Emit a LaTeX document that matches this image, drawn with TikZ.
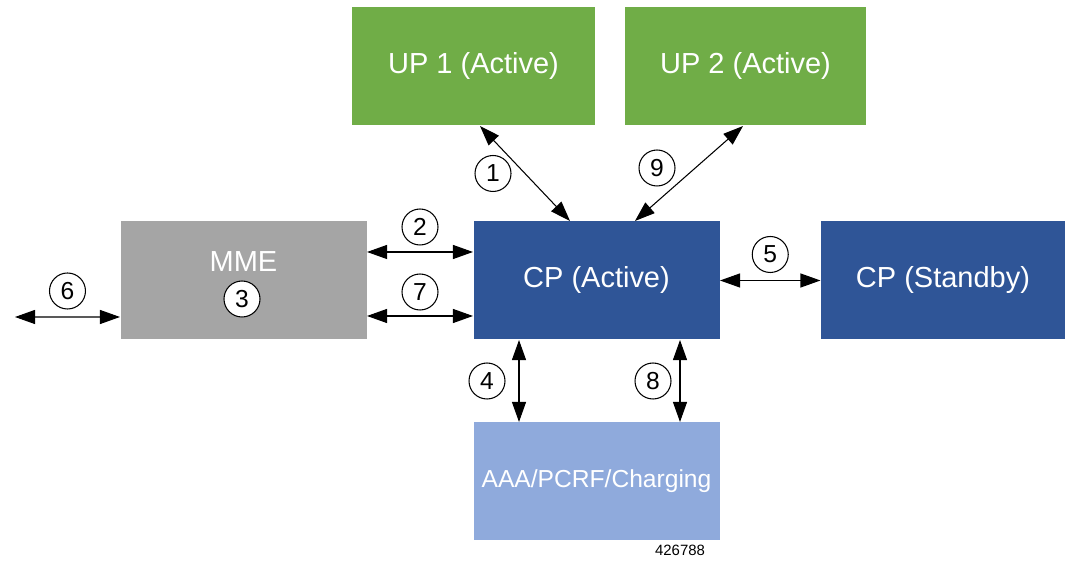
\documentclass[tikz,border=0pt]{standalone}
\usepackage{fontspec}
\setmainfont{Liberation Sans}
\usetikzlibrary{arrows.meta}
\definecolor{upgreen}{HTML}{70AD47}
\definecolor{cpblue}{HTML}{2F5597}
\definecolor{mmegray}{HTML}{A5A5A5}
\definecolor{aaablue}{HTML}{8FAADC}
\begin{document}
\begin{tikzpicture}[
        line width=0.6pt,
        font=\fontsize{16.5}{19}\selectfont
    ]
    \tikzset{
        box/.style = {rectangle, minimum width=4.92cm, minimum height=2.36cm, inner sep=0pt, text=white},
        upbox/.style = {box, fill=upgreen},
        cpbox/.style = {box, fill=cpblue},
        mmebox/.style = {box, fill=mmegray},
        aaabox/.style = {box, fill=aaablue, font=\fontsize{14}{17}\selectfont},
        numc/.style = {circle, draw=black, fill=white, text=black, minimum size=7.2mm, inner sep=0pt, font=\fontsize{14}{16}\selectfont},
        link/.style = {{Triangle[length=4mm,width=2.8mm]}-{Triangle[length=4mm,width=2.8mm]}, black},
    }
    \useasboundingbox (0,0) rectangle (21.3,11.26);
    \node[upbox, minimum width=4.86cm] at (9.47,9.93) (up1) {UP 1 (Active)};
    \node[upbox, minimum width=4.82cm] at (14.91,9.93) (up2) {UP 2 (Active)};
    \node[cpbox] at (11.93,5.65) (cpa) {CP (Active)};
    \node[cpbox, minimum width=4.88cm] at (18.86,5.65) (cps) {CP (Standby)};
    \node[mmebox, label={[text=white, yshift=3.7mm]center:MME}] at (4.87,5.65) (mme) {};
    \node[aaabox] at (11.93,1.63) (aaa) {AAA/PCRF/Charging};
    \node[numc] at (4.84,5.28) (n3) {3};
    \coordinate (w6) at (0.3,4.92);
    \node[font=\fontsize{8.5}{10}\selectfont] at (13.6,0.26) (fig) {426788};
    %
    \draw ([xshift=1.3mm]up1.south) edge[link] node[numc, xshift=-6.4mm] {1} ([xshift=-5.3mm]cpa.north);
    \draw ([xshift=-0.5mm]up2.south) edge[link] node[numc, xshift=-6.4mm, yshift=1.1mm] {9} ([xshift=7.7mm]cpa.north);
    %
    \draw ([yshift=5.7mm]mme.east) edge[link] node[numc, yshift=5mm] {2} ([yshift=5.7mm]cpa.west);
    \draw ([yshift=-7.1mm]mme.east) edge[link] node[numc, yshift=4.8mm] {7} ([yshift=-7.1mm]cpa.west);
    \draw (w6) edge[link] node[numc, yshift=5.2mm] {6} ([yshift=-7.3mm]mme.west);
    \draw (cpa.east) edge[link] node[numc, yshift=5.2mm] {5} (cps.west);
    %
    \draw ([xshift=-15.5mm]cpa.south) edge[link] node[numc, xshift=-6.4mm] {4} ([xshift=-15.5mm]aaa.north);
    \draw ([xshift=16.7mm]cpa.south) edge[link] node[numc, xshift=-5.4mm] {8} ([xshift=16.7mm]aaa.north);
\end{tikzpicture}
\end{document}
